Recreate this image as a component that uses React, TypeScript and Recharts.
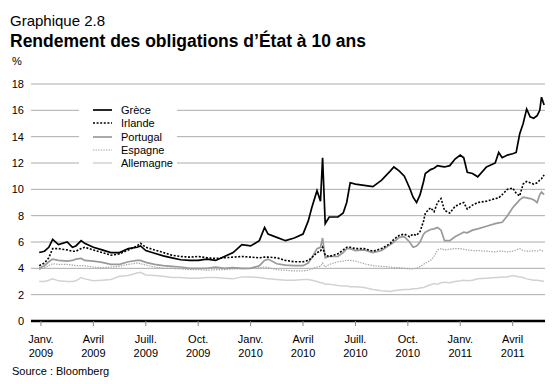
import { LineChart, Line, XAxis, YAxis, CartesianGrid } from "recharts";

// x = months since 1 Jan 2009
const months = [
  -0.1, 0.2, 0.45, 0.67, 1.0, 1.5, 1.8, 2.0, 2.3, 2.5,
  3.0, 3.5, 4.0, 4.5, 5.0, 5.5, 5.7, 6.0, 6.5, 7.0,
  7.5, 8.0, 8.5, 9.0, 9.5, 10.0, 10.5, 11.0, 11.5, 12.0,
  12.5, 12.8, 13.0, 13.5, 14.0, 14.5, 15.0, 15.3, 15.5, 15.8,
  16.0, 16.12, 16.27, 16.5, 17.0, 17.3, 17.5, 17.7, 18.0, 18.5,
  19.0, 19.5, 20.0, 20.2, 20.5, 20.8, 21.1, 21.3, 21.5, 21.7,
  21.9, 22.0, 22.3, 22.5, 22.7, 22.9, 23.1, 23.4, 23.7, 24.0,
  24.2, 24.4, 24.7, 25.0, 25.5, 26.0, 26.2, 26.4, 26.7, 27.0,
  27.2, 27.4, 27.6, 27.8, 28.0, 28.2, 28.4, 28.55, 28.65, 28.8,
];

const greece = [
  5.2, 5.3, 5.6, 6.2, 5.8, 6.0, 5.6, 5.7, 6.1, 5.9,
  5.6, 5.4, 5.2, 5.2, 5.5, 5.6, 5.7, 5.35, 5.15, 4.95,
  4.8, 4.65, 4.6, 4.6, 4.7, 4.6, 4.9, 5.2, 5.8, 5.7,
  6.1, 7.1, 6.6, 6.35, 6.1, 6.3, 6.6, 7.6, 8.6, 9.9,
  9.1, 12.4, 7.4, 7.9, 7.9, 8.2, 9.0, 10.5, 10.4, 10.3,
  10.2, 10.7, 11.4, 11.7, 11.4, 11.0, 10.1, 9.4, 9.0, 9.6,
  10.6, 11.2, 11.5, 11.6, 11.8, 11.75, 11.7, 11.8, 12.3, 12.6,
  12.4, 11.3, 11.2, 10.95, 11.7, 12.0, 12.8, 12.4, 12.6, 12.7,
  12.8, 14.2, 15.0, 16.1, 15.5, 15.4, 15.6, 16.0, 17.0, 16.4,
];

const ireland = [
  4.2, 4.4, 4.8, 5.5, 5.5, 5.4, 5.3, 5.3, 5.5, 5.6,
  5.4, 5.2, 5.0, 5.1, 5.4, 5.7, 5.9, 5.6, 5.4, 5.2,
  5.0, 4.9, 4.85, 4.9, 4.8, 4.75, 4.8, 4.85, 4.9, 4.85,
  4.8, 4.85, 4.85, 4.8, 4.6, 4.5, 4.5, 4.6, 4.8, 5.2,
  5.3, 5.6, 5.0, 4.9, 5.1, 5.4, 5.6, 5.6, 5.5, 5.5,
  5.3, 5.5, 5.9, 6.2, 6.5, 6.6, 6.4, 6.6, 6.5, 6.8,
  7.6, 8.2, 8.6, 8.3, 9.0, 9.3, 8.4, 8.2, 8.7, 8.9,
  9.0, 8.5, 8.8, 9.0, 9.1, 9.3, 9.35, 9.6, 10.0, 10.1,
  9.7, 9.5, 10.4, 10.6, 10.5, 10.4, 10.5, 10.7, 10.8, 11.1,
];

const portugal = [
  4.0, 4.2, 4.5, 4.7, 4.6, 4.55, 4.6, 4.7, 4.75, 4.6,
  4.55, 4.45, 4.3, 4.3, 4.5, 4.6, 4.6, 4.45, 4.3, 4.2,
  4.15, 4.1, 4.0, 4.0, 4.0, 4.1, 4.0, 4.05, 4.0, 4.0,
  4.2, 4.6, 4.7, 4.35, 4.25, 4.2, 4.2, 4.4, 4.8, 5.5,
  5.6, 6.3, 4.8, 4.9, 4.9, 5.2, 5.5, 5.5, 5.35, 5.4,
  5.2, 5.35, 5.8, 6.0, 6.35, 6.4, 6.0, 5.6, 5.7, 6.0,
  6.6, 6.75, 6.95, 7.0, 7.1, 6.9, 6.1, 6.1, 6.4, 6.6,
  6.75, 6.7, 6.9, 7.0, 7.2, 7.4, 7.45, 7.5, 8.0, 8.6,
  8.9, 9.2, 9.4, 9.35, 9.3, 9.2, 9.0, 9.6, 9.8, 9.6,
];

const spain = [
  3.9, 4.05, 4.2, 4.35, 4.3, 4.3, 4.25, 4.2, 4.2, 4.2,
  4.1, 4.05, 4.1, 4.15, 4.3, 4.4, 4.35, 4.25, 4.1, 4.0,
  4.0, 3.95, 3.9, 3.9, 3.85, 3.9, 3.9, 3.95, 3.95, 4.0,
  4.05, 4.1, 4.05, 3.9, 3.85, 3.8, 3.8, 3.85, 3.95, 4.1,
  4.15, 4.4, 4.1, 4.3, 4.5, 4.55, 4.6, 4.6, 4.55, 4.35,
  4.2, 4.15, 4.1, 4.05, 4.05, 4.0, 3.95, 3.95, 4.0, 4.15,
  4.3, 4.4, 4.6, 4.9, 5.4, 5.5, 5.4, 5.45, 5.5, 5.5,
  5.45, 5.4, 5.35, 5.35, 5.3, 5.25, 5.3, 5.3, 5.25, 5.3,
  5.4, 5.5, 5.35, 5.3, 5.3, 5.35, 5.3, 5.4, 5.35, 5.3,
];

const germany = [
  3.0, 3.0, 3.1, 3.2, 3.05, 3.0, 3.0, 3.05, 3.3, 3.2,
  3.05, 3.1, 3.15, 3.4, 3.45, 3.65, 3.7, 3.5, 3.45, 3.4,
  3.3, 3.3, 3.25, 3.25, 3.3, 3.3, 3.25, 3.2, 3.35, 3.35,
  3.3, 3.25, 3.2, 3.15, 3.1, 3.1, 3.15, 3.15, 3.1, 3.0,
  2.9, 2.9, 2.8, 2.8, 2.7, 2.65, 2.65, 2.6, 2.6, 2.55,
  2.4, 2.3, 2.25, 2.3, 2.35, 2.4, 2.4, 2.45, 2.45, 2.5,
  2.55, 2.6, 2.75, 2.85, 2.8, 2.9, 2.95, 2.9, 3.0, 3.05,
  3.1, 3.05, 3.1, 3.2, 3.25, 3.3, 3.3, 3.35, 3.35, 3.45,
  3.4, 3.35, 3.3, 3.2, 3.15, 3.1, 3.1, 3.05, 3.05, 3.0,
];

const tickMonths = [0, 3, 6, 9, 12, 15, 18, 21, 24, 27];
const tickLabels = [
  ["Janv.", "2009"], ["Avril", "2009"], ["Juill.", "2009"], ["Oct.", "2009"],
  ["Janv.", "2010"], ["Avril", "2010"], ["Juill.", "2010"], ["Oct.", "2010"],
  ["Janv.", "2011"], ["Avril", "2011"],
];
const yTicks = [0, 2, 4, 6, 8, 10, 12, 14, 16, 18];

const FONT = '"Liberation Sans", Arial, Helvetica, sans-serif';

// legend order, top to bottom
const series = [
  { key: "gr", name: "Grèce", color: "#000000", width: 1.7, dash: undefined as string | undefined },
  { key: "ie", name: "Irlande", color: "#000000", width: 1.6, dash: "2 1.6" },
  { key: "pt", name: "Portugal", color: "#9a9a9a", width: 1.7, dash: undefined },
  { key: "es", name: "Espagne", color: "#a5a5a5", width: 1.2, dash: "1.4 1.2" },
  { key: "de", name: "Allemagne", color: "#d2d2d2", width: 1.5, dash: undefined },
];

const rows = months.map((t, i) => ({
  t,
  gr: greece[i],
  ie: ireland[i],
  pt: portugal[i],
  es: spain[i],
  de: germany[i],
}));

function QuarterTick({ x, y, payload }: any) {
  const i = tickMonths.indexOf(payload.value);
  const [m, yr] = tickLabels[i] ?? ["", ""];
  return (
    <text x={x} y={y} textAnchor="middle" fontSize={11} fill="#000" fontFamily={FONT}>
      <tspan x={x} dy={15}>{m}</tspan>
      <tspan x={x} dy={13.5}>{yr}</tspan>
    </text>
  );
}

export default function App() {
  return (
    <div style={{ position: "absolute", left: 0, top: 0, width: 560, height: 384, background: "#fff", fontFamily: FONT, color: "#000" }}>
      <div style={{ position: "absolute", left: 10, top: 12, fontSize: 15, lineHeight: "17px" }}>Graphique 2.8</div>
      <div style={{ position: "absolute", left: 10, top: 32, fontSize: 17.5, fontWeight: "bold", lineHeight: "19px" }}>
        Rendement des obligations d’État à 10 ans
      </div>
      <div style={{ position: "absolute", left: 12, top: 55, fontSize: 11, lineHeight: "13px" }}>%</div>

      <div style={{ position: "absolute", left: 0, top: 0 }}>
        <LineChart width={560} height={384} data={rows} margin={{ top: 84, right: 15, bottom: 23, left: 0 }}>
          <CartesianGrid vertical={false} stroke="#ababab" strokeWidth={1} />
          <XAxis
            type="number"
            dataKey="t"
            domain={[-0.57, 28.85]}
            allowDataOverflow
            ticks={tickMonths}
            interval={0}
            height={40}
            axisLine={{ stroke: "#000", strokeWidth: 2.5 }}
            tickLine={{ stroke: "#888" }}
            tickSize={5}
            tickMargin={2}
            tick={<QuarterTick />}
          />
          <YAxis
            domain={[0, 18]}
            ticks={yTicks}
            interval={0}
            width={31}
            axisLine={false}
            tickLine={false}
            tickSize={0}
            tickMargin={7}
            tick={{ fontSize: 11, fill: "#000", fontFamily: FONT }}
          />
          {series.slice().reverse().map(s => (
            <Line
              key={s.key}
              type="linear"
              dataKey={s.key}
              stroke={s.color}
              strokeWidth={s.width}
              strokeDasharray={s.dash}
              dot={false}
              activeDot={false}
              isAnimationActive={false}
            />
          ))}
        </LineChart>
      </div>

      {/* legend box sits on top of the gridlines */}
      <div style={{ position: "absolute", left: 79, top: 101, width: 98, height: 70, background: "#fff" }}>
        {series.map((s, i) => (
          <div
            key={s.key}
            style={{ position: "absolute", left: 0, top: 9.3 + i * 13.15 - 7, height: 14, display: "flex", alignItems: "center", fontSize: 11 }}
          >
            <svg width={19} height={4} style={{ marginLeft: 14, marginRight: 9 }}>
              <line x1={0} y1={2} x2={19} y2={2} stroke={s.color} strokeWidth={s.width} strokeDasharray={s.dash} />
            </svg>
            <span style={{ whiteSpace: "nowrap" }}>{s.name}</span>
          </div>
        ))}
      </div>

      <div style={{ position: "absolute", left: 12, top: 365, fontSize: 11, lineHeight: "13px" }}>Source : Bloomberg</div>
    </div>
  );
}
